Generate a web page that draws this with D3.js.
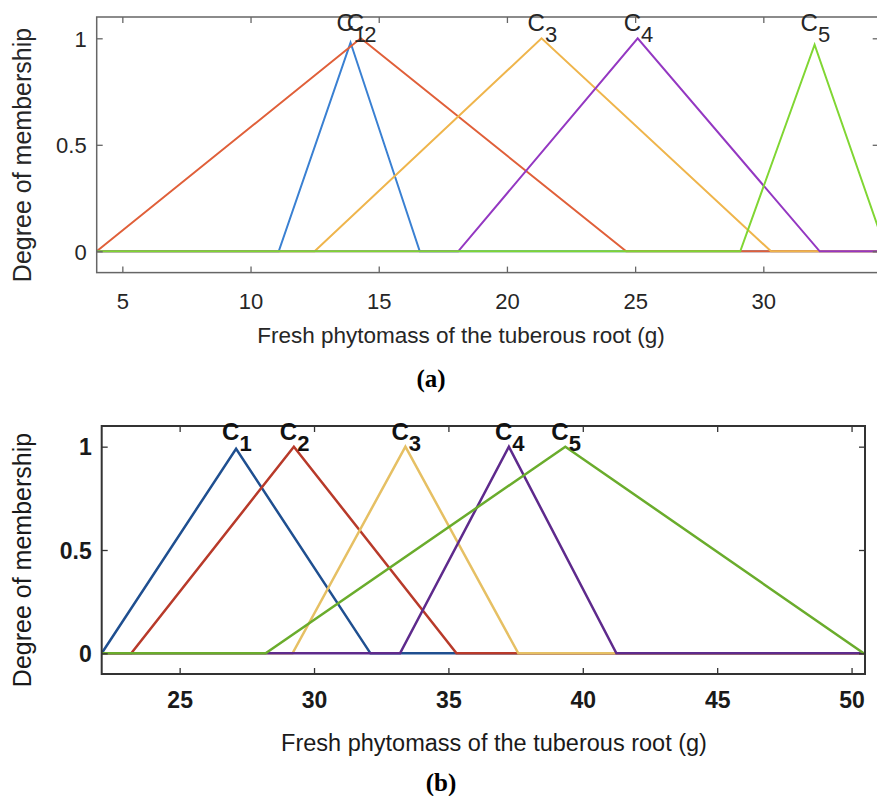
<!DOCTYPE html>
<html>
<head>
<meta charset="utf-8">
<script src="https://cdn.jsdelivr.net/npm/d3@7"></script>
<style>
  html, body { margin: 0; padding: 0; background: #fff; }
  svg { display: block; }
</style>
</head>
<body>
<svg id="chart" width="877" height="796"></svg>
<script>
// ---------- Data: panel (a) ----------
const categoriesA = ["1", "2", "3", "4", "5"];
const startA = [11.1, 4.0, 12.5, 18.1, 29.1];
const peakXA = [13.9, 14.3, 21.35, 25.1, 32.0];
const peakA  = [0.98, 1.0, 1.0, 1.0, 0.97];
const endA   = [16.6, 24.65, 30.3, 32.2, 34.8];
const xDomainA = [4, 34.5];
const xTicksA = [5, 10, 15, 20, 25, 30];

// ---------- Data: panel (b) ----------
const categoriesB = ["1", "2", "3", "4", "5"];
const startB = [22.1, 23.2, 29.2, 33.2, 28.2];
const peakXB = [27.1, 29.25, 33.4, 37.25, 39.35];
const peakB  = [0.99, 1.0, 1.0, 1.0, 1.0];
const endB   = [32.1, 35.3, 37.6, 41.25, 50.45];
const xDomainB = [22.1, 50.5];
const xTicksB = [25, 30, 35, 40, 45, 50];

const yDomain = [-0.1, 1.1];
const yTicks = [0, 0.5, 1];
const yTickLabels = ["0", "0.5", "1"];

const xLabel = "Fresh phytomass of the tuberous root (g)";
const yLabel = "Degree of membership";

const colorsA = ["#3a80d2", "#e0603a", "#efb54c", "#9438c2", "#80d633"];
const colorsB = ["#1f4f90", "#b83a2a", "#e6c064", "#5e2a8c", "#6aac2c"];

const svg = d3.select("#chart");
svg.append("rect").attr("width", 877).attr("height", 796).attr("fill", "#fff");

function panel(o) {
  const g = svg.append("g");
  const x = d3.scaleLinear().domain(o.xDomain).range([o.left, o.right]);
  const y = d3.scaleLinear().domain(yDomain).range([o.bottom, o.top]);
  const clipId = "clip" + o.id;
  svg.append("clipPath").attr("id", clipId)
    .append("rect").attr("x", o.left).attr("y", o.top)
    .attr("width", o.right - o.left).attr("height", o.bottom - o.top);

  // Lines
  const line = d3.line().x(d => x(d[0])).y(d => y(d[1]));
  const lg = g.append("g").attr("clip-path", `url(#${clipId})`);
  o.start.forEach((s, i) => {
    const pts = [[o.xDomain[0], 0], [s, 0], [o.peakX[i], o.peak[i]], [o.end[i], 0], [o.xDomain[1] + 2, 0]];
    lg.append("path").attr("d", line(pts))
      .attr("fill", "none").attr("stroke", o.colors[i])
      .attr("stroke-width", o.lw).attr("stroke-linejoin", "miter");
  });

  // Axes (ticks inward on all four sides)
  const tl = 6;
  const axB = d3.axisBottom(x).tickValues(o.xTicks).tickSize(-tl).tickFormat(d3.format("d")).tickPadding(12);
  const axT = d3.axisTop(x).tickValues(o.xTicks).tickSize(-tl).tickFormat("");
  const axL = d3.axisLeft(y).tickValues(yTicks).tickSize(-tl).tickFormat((d, i) => yTickLabels[i]).tickPadding(10);
  const axR = d3.axisRight(y).tickValues(yTicks).tickSize(-tl).tickFormat("");

  const gB = g.append("g").attr("transform", `translate(0,${o.bottom})`).call(axB);
  const gT = g.append("g").attr("transform", `translate(0,${o.top})`).call(axT);
  const gL = g.append("g").attr("transform", `translate(${o.left},0)`).call(axL);
  const gR = g.append("g").attr("transform", `translate(${o.right},0)`).call(axR);
  [gB, gT, gL, gR].forEach(a => {
    a.select(".domain").remove();
    a.selectAll(".tick line").attr("stroke", o.axisColor).attr("stroke-width", 1.3);
  });
  [gB, gL].forEach(a => a.selectAll(".tick text")
    .attr("font-family", "Liberation Sans, Arial, sans-serif")
    .attr("font-size", o.tickFont).attr("font-weight", o.tickWeight)
    .attr("fill", o.textColor));
  gB.selectAll(".tick text").attr("dy", null).attr("y", o.xTickBaseline - o.bottom).attr("dominant-baseline", "auto");
  gL.selectAll(".tick text").attr("dy", "0.36em");

  g.append("rect").attr("x", o.left).attr("y", o.top)
    .attr("width", o.right - o.left).attr("height", o.bottom - o.top)
    .attr("fill", "none").attr("stroke", o.axisColor).attr("stroke-width", o.boxW);

  // Peak labels C_i
  o.cats.forEach((c, i) => {
    const t = g.append("text")
      .attr("x", x(o.peakX[i]) - 14).attr("y", y(1) - 7)
      .attr("font-family", "Liberation Sans, Arial, sans-serif")
      .attr("font-size", o.labelFont).attr("font-weight", o.labelWeight)
      .attr("fill", o.labelColor);
    t.append("tspan").text("C");
    t.append("tspan").attr("dy", 11).attr("font-size", o.labelFont - 2).text(c);
  });

  // Axis titles
  g.append("text").attr("x", o.xLabelX).attr("y", o.xLabelY)
    .attr("text-anchor", "middle")
    .attr("font-family", "Liberation Sans, Arial, sans-serif")
    .attr("font-size", o.xLabelFont).attr("fill", o.textColor).text(xLabel);
  g.append("text")
    .attr("transform", `translate(${o.yLabelX},${o.yLabelY}) rotate(-90)`)
    .attr("text-anchor", "middle")
    .attr("font-family", "Liberation Sans, Arial, sans-serif")
    .attr("font-size", o.yLabelFont).attr("fill", o.textColor).text(yLabel);

  // Caption
  g.append("text").attr("x", o.capX).attr("y", o.capY)
    .attr("text-anchor", "middle")
    .attr("font-family", "Liberation Serif, Times New Roman, serif")
    .attr("font-size", 25).attr("font-weight", "bold").attr("fill", "#000")
    .text(o.caption);
}

panel({
  id: "a", left: 96.7, right: 878.7, top: 17, bottom: 272.6,
  xDomain: xDomainA, xTicks: xTicksA, cats: categoriesA,
  start: startA, peakX: peakXA, peak: peakA, end: endA,
  colors: colorsA, lw: 2, axisColor: "#666", boxW: 1.5,
  tickFont: 22, tickWeight: "normal", textColor: "#262626", xTickBaseline: 309,
  labelFont: 24, labelWeight: "normal", labelColor: "#262626",
  xLabelX: 461, xLabelY: 343, xLabelFont: 22.5,
  yLabelX: 31, yLabelY: 155, yLabelFont: 25,
  capX: 431, capY: 387, caption: "(a)"
});

panel({
  id: "b", left: 101.7, right: 865, top: 426, bottom: 674,
  xDomain: xDomainB, xTicks: xTicksB, cats: categoriesB,
  start: startB, peakX: peakXB, peak: peakB, end: endB,
  colors: colorsB, lw: 2.5, axisColor: "#333", boxW: 2,
  tickFont: 23, tickWeight: "bold", textColor: "#1a1a1a", xTickBaseline: 708,
  labelFont: 24, labelWeight: "bold", labelColor: "#111",
  xLabelX: 494, xLabelY: 751, xLabelFont: 23.5,
  yLabelX: 31, yLabelY: 560, yLabelFont: 25,
  capX: 441, capY: 791, caption: "(b)"
});
</script>
</body>
</html>
